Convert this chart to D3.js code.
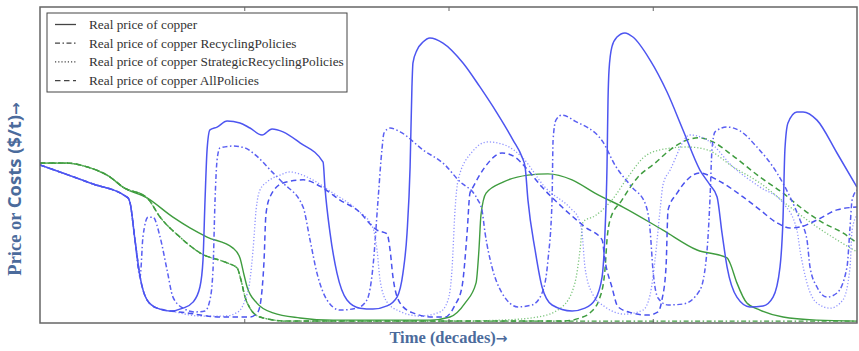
<!DOCTYPE html>
<html>
<head>
<meta charset="utf-8">
<script src="https://cdn.jsdelivr.net/npm/d3@7"></script>
<style>
  body { margin: 0; background: #fff; }
  svg { display: block; }
</style>
</head>
<body>
<svg id="chart"></svg>
<script>
// tempo em anos (0..40 = 4 décadas), preço como índice 0..100
const precoBase = [
  [0, 50.0], [2.45, 44.3], [4.31, 39.6], [4.41, 38.0], [4.65, 26.3], [4.90, 14.6], [5.24, 7.3], [5.73, 4.7],
  [6.36, 3.8], [7.00, 4.7], [7.49, 6.6], [7.83, 11.4], [7.98, 19.9], [8.08, 38.9], [8.18, 54.8], [8.32, 61.1],
  [8.67, 62.0], [9.16, 63.9], [9.79, 63.3], [10.28, 61.7], [10.87, 59.5], [11.36, 61.4], [11.90, 60.5],
  [12.73, 57.0], [13.86, 50.9], [13.95, 43.0], [14.20, 28.5], [14.54, 15.8], [15.03, 7.3], [15.67, 4.7],
  [16.30, 4.4], [16.99, 5.4], [17.48, 8.2], [17.77, 15.8], [17.97, 28.5], [18.12, 49.4], [18.21, 74.7],
  [18.26, 82.3], [18.46, 86.4], [18.75, 88.9], [19.09, 90.2], [19.73, 88.6], [20.71, 82.3], [21.54, 74.7],
  [22.37, 66.5], [23.16, 57.9], [23.60, 52.5], [23.75, 49.4], [23.89, 38.9], [24.24, 23.1], [24.58, 11.4],
  [25.07, 5.7], [26.05, 3.8], [26.68, 4.7], [27.17, 7.3], [27.52, 14.6], [27.66, 28.5], [27.76, 49.4],
  [27.81, 70.6], [27.86, 80.1], [28.00, 87.4], [28.25, 90.5], [28.64, 91.8], [29.03, 90.5], [29.87, 83.2],
  [30.70, 73.1], [31.48, 61.1], [32.31, 48.4], [32.80, 43.7], [33.15, 39.9], [33.39, 28.5], [33.64, 17.7],
  [34.12, 8.2], [34.76, 5.1], [35.40, 5.4], [35.89, 8.2], [36.23, 17.7], [36.38, 33.5], [36.47, 54.8],
  [36.62, 63.3], [37.06, 66.8], [37.36, 66.8], [38.04, 64.2], [39.02, 53.8], [40.00, 43.0]
];

const precoReciclagem = [
  [0, 50.0], [2.45, 44.3], [4.31, 39.6], [4.41, 38.0], [4.65, 26.3], [4.90, 14.6], [5.04, 27.2], [5.29, 33.5],
  [5.53, 33.5], [5.88, 27.2], [6.22, 16.8], [6.51, 8.2], [7.00, 4.7], [7.59, 3.5], [8.08, 3.8], [8.32, 7.3],
  [8.47, 16.8], [8.57, 38.9], [8.67, 51.6], [8.81, 55.4], [9.45, 56.0], [10.04, 55.4], [10.43, 53.8],
  [11.41, 47.5], [11.90, 44.3], [12.88, 36.7], [13.22, 26.3], [13.56, 15.8], [14.05, 7.3], [14.69, 4.1],
  [15.52, 4.7], [16.01, 7.3], [16.30, 17.7], [16.55, 38.9], [16.74, 54.8], [16.84, 60.1], [17.14, 61.7],
  [17.63, 60.5], [18.75, 54.8], [19.83, 50.0], [20.47, 45.3], [21.44, 38.9], [21.64, 35.7], [21.79, 28.5],
  [22.13, 17.7], [22.62, 9.5], [23.40, 5.1], [24.09, 5.7], [24.58, 9.5], [24.87, 19.9], [25.07, 38.9],
  [25.12, 57.9], [25.26, 64.2], [25.56, 65.8], [26.19, 63.9], [27.56, 57.3], [28.15, 50.0], [28.98, 43.0],
  [29.62, 38.0], [29.87, 29.4], [30.01, 16.8], [30.26, 7.9], [30.75, 5.7], [31.48, 6.0], [32.31, 10.4],
  [32.66, 23.1], [32.80, 38.9], [32.90, 54.8], [33.05, 60.5], [33.64, 62.0], [34.27, 60.8], [35.10, 55.7],
  [36.08, 47.5], [36.72, 39.9], [37.21, 32.6], [37.55, 26.3], [37.70, 17.7], [38.04, 11.4], [38.53, 8.2],
  [39.02, 9.5], [39.51, 17.7], [39.66, 30.4], [39.76, 38.9], [40.0, 42.1]
];

const precoEstrategica = [
  [0, 50.0], [2.45, 44.3], [4.31, 39.6], [4.41, 38.0], [4.65, 26.3], [4.90, 14.6], [5.24, 7.3], [5.73, 4.7],
  [6.61, 3.5], [7.83, 2.2], [9.06, 2.2], [9.69, 3.5], [10.04, 7.3], [10.28, 13.6], [10.43, 23.1], [10.58, 35.8],
  [10.77, 42.1], [11.11, 44.6], [11.75, 46.8], [12.24, 47.8], [13.07, 46.2], [14.35, 41.1], [15.52, 35.8],
  [16.30, 30.1], [16.50, 23.1], [16.65, 13.6], [16.99, 6.6], [17.48, 4.1], [18.60, 2.2], [19.58, 3.5],
  [19.98, 7.3], [20.17, 16.8], [20.32, 35.8], [20.47, 45.3], [21.15, 54.1], [21.93, 57.3], [22.77, 56.3],
  [23.60, 52.5], [24.72, 43.0], [26.05, 35.8], [26.34, 33.5], [26.54, 28.5], [26.68, 17.7], [27.03, 9.5],
  [27.66, 5.1], [28.64, 2.8], [29.52, 4.1], [29.87, 8.9], [30.11, 19.9], [30.36, 35.8], [30.50, 43.7],
  [30.85, 48.4], [31.82, 59.5], [32.66, 57.9], [33.93, 49.4], [35.25, 43.0], [36.38, 38.0], [37.06, 29.4],
  [37.21, 23.1], [37.55, 12.7], [38.04, 6.3], [38.68, 4.7], [39.31, 7.3], [39.66, 17.7], [39.76, 29.4],
  [40.0, 34.2]
];

const precoTodas = [
  [0, 50.0], [2.45, 44.3], [4.31, 39.6], [4.41, 38.0], [4.65, 26.3], [4.90, 14.6], [5.24, 7.3], [5.73, 4.7],
  [7.20, 3.2], [8.81, 1.9], [10.28, 1.9], [10.67, 3.5], [10.87, 10.4], [10.97, 19.9], [11.06, 34.2],
  [11.26, 39.9], [11.90, 44.3], [12.88, 45.3], [13.86, 42.7], [14.69, 38.9], [15.52, 35.8], [16.50, 29.4],
  [16.99, 28.2], [17.14, 23.1], [17.28, 14.6], [17.63, 6.3], [18.26, 3.2], [19.24, 1.9], [19.83, 1.9],
  [20.32, 5.7], [20.66, 11.4], [20.91, 28.5], [21.05, 41.1], [21.20, 43.0], [21.79, 49.4], [22.62, 53.8],
  [23.26, 52.5], [23.75, 49.4], [24.58, 43.0], [25.56, 36.7], [26.68, 30.4], [27.52, 26.3], [27.66, 19.9],
  [28.00, 11.4], [28.30, 5.1], [28.98, 3.2], [29.77, 2.5], [30.26, 3.5], [30.45, 7.3], [30.65, 17.7],
  [30.75, 35.8], [31.19, 41.1], [32.31, 47.5], [33.15, 45.3], [34.42, 39.9], [35.25, 35.8], [36.08, 31.7],
  [36.72, 30.1], [37.21, 30.4], [38.04, 32.6], [39.02, 35.8], [40.0, 36.7]
];

// curvas verdes (custos)
const custoBase = [
  [0, 50.6], [1.32, 50.6], [2.30, 49.4], [3.43, 46.2], [4.06, 43.0], [5.24, 39.6], [6.51, 33.5], [7.34, 30.1],
  [8.18, 27.2], [9.45, 23.7], [9.79, 20.6], [9.99, 15.2], [10.14, 11.4], [10.62, 6.3], [11.41, 3.2],
  [12.73, 1.6], [14.35, 0.9], [19.09, 0.9], [20.07, 1.9], [20.81, 6.3], [21.35, 12.7], [21.49, 23.1],
  [21.59, 34.2], [21.84, 41.1], [22.67, 44.6], [23.89, 46.8], [24.87, 47.2], [26.05, 45.3], [27.17, 41.1],
  [28.54, 36.7], [30.50, 29.4], [32.17, 23.1], [33.64, 20.6], [33.78, 19.0], [34.12, 12.7], [34.61, 6.3],
  [35.25, 4.1], [36.38, 1.9], [38.04, 0.9], [40, 0.6]
];

const custoReciclagem = [
  [0, 50.6], [1.32, 50.6], [2.30, 49.4], [3.43, 46.2], [4.06, 43.0], [5.24, 39.6], [5.88, 33.5], [6.85, 27.2],
  [7.83, 22.2], [9.16, 19.0], [9.65, 17.4], [9.84, 13.6], [10.04, 8.2], [10.28, 4.7], [10.77, 1.9],
  [12.09, 0.6], [40, 0.6]
];

const custoEstrategica = [
  [0, 50.6], [1.32, 50.6], [2.30, 49.4], [3.43, 46.2], [4.06, 43.0], [5.24, 39.6], [5.88, 33.5], [6.85, 27.2],
  [7.83, 22.2], [9.16, 19.0], [9.65, 17.4], [9.84, 13.6], [10.04, 8.2], [10.28, 4.7], [10.77, 1.9],
  [12.09, 0.6], [20.07, 0.6], [22.52, 0.9], [24.38, 1.9], [25.56, 5.1], [26.19, 12.7], [26.44, 23.1],
  [26.59, 32.0], [27.17, 33.9], [28.00, 38.9], [28.79, 46.2], [29.52, 52.2], [30.36, 54.8], [31.68, 55.7],
  [32.66, 54.8], [33.93, 49.4], [35.25, 44.3], [36.72, 36.7], [38.04, 30.4], [39.02, 26.3], [40, 22.5]
];

const custoTodas = [
  [0, 50.6], [1.32, 50.6], [2.30, 49.4], [3.43, 46.2], [4.06, 43.0], [5.24, 39.6], [5.88, 33.5], [6.85, 27.2],
  [7.83, 22.2], [9.16, 19.0], [9.65, 17.4], [9.84, 13.6], [10.04, 8.2], [10.28, 4.7], [10.77, 1.9],
  [12.09, 0.6], [24.48, 0.6], [25.61, 0.6], [26.44, 1.6], [26.93, 3.2], [27.42, 8.2], [27.66, 16.8],
  [27.76, 26.3], [27.91, 32.6], [28.49, 38.9], [29.28, 46.2], [30.11, 50.6], [30.85, 54.8], [31.68, 57.9],
  [32.31, 58.6], [32.95, 57.3], [33.93, 52.9], [35.25, 46.2], [36.38, 41.1], [37.21, 36.7], [38.34, 31.7],
  [39.31, 28.5], [40, 25.3]
];

const legendaNomes = [
  'Real price of copper',
  'Real price of copper RecyclingPolicies',
  'Real price of copper StrategicRecyclingPolicies',
  'Real price of copper AllPolicies'
];
const ticksDecadas = [10, 20, 30];

// estilos de linha (sólida, traço-ponto, pontilhada, tracejada)
const tracos = [null, '5,2.5,1.5,2.5', '1.2,2', '5.5,3.5'];

const W = 859, H = 351;
const m = { left: 40, right: 2, top: 7, bottom: 28 };

const svg = d3.select('#chart').attr('width', W).attr('height', H);

const x = d3.scaleLinear().domain([0, 40]).range([m.left, W - m.right]);
const y = d3.scaleLinear().domain([0, 100]).range([H - m.bottom, m.top]);

const linha = d3.line()
  .x(d => x(d[0]))
  .y(d => y(d[1]))
  .curve(d3.curveMonotoneX);

svg.append('defs').append('clipPath').attr('id', 'area')
  .append('rect')
  .attr('x', x(0)).attr('y', y(100))
  .attr('width', x(40) - x(0)).attr('height', y(0) - y(100));

const series = [
  { dados: custoBase, cor: '#3f9c3f', traco: tracos[0], w: 1.4 },
  { dados: custoReciclagem, cor: '#3f9c3f', traco: tracos[1], w: 1.3 },
  { dados: custoEstrategica, cor: '#7cc57c', traco: tracos[2], w: 1.3 },
  { dados: custoTodas, cor: '#3f9c3f', traco: tracos[3], w: 1.5 },
  { dados: precoReciclagem, cor: '#5a5ff2', traco: tracos[1], w: 1.5 },
  { dados: precoEstrategica, cor: '#8f93ff', traco: tracos[2], w: 1.3 },
  { dados: precoTodas, cor: '#4a52ee', traco: tracos[3], w: 1.5 },
  { dados: precoBase, cor: '#4d55f0', traco: tracos[0], w: 1.5 }
];

const g = svg.append('g').attr('clip-path', 'url(#area)');
g.selectAll('path')
  .data(series)
  .enter()
  .append('path')
  .attr('d', d => linha(d.dados))
  .attr('fill', 'none')
  .attr('stroke', d => d.cor)
  .attr('stroke-width', d => d.w)
  .attr('stroke-dasharray', d => d.traco)
  .attr('stroke-linejoin', 'round');

// moldura e marcas
svg.append('rect')
  .attr('x', x(0)).attr('y', y(100))
  .attr('width', x(40) - x(0)).attr('height', y(0) - y(100))
  .attr('fill', 'none').attr('stroke', '#666').attr('stroke-width', 1.5);

const eixoBaixo = svg.append('g').attr('transform', `translate(0,${y(0)})`)
  .call(d3.axisBottom(x).tickValues(ticksDecadas).tickSize(-4).tickFormat(''));
const eixoTopo = svg.append('g').attr('transform', `translate(0,${y(100)})`)
  .call(d3.axisTop(x).tickValues(ticksDecadas).tickSize(-4).tickFormat(''));
[eixoBaixo, eixoTopo].forEach(e => {
  e.select('.domain').remove();
  e.selectAll('line').attr('stroke', '#666');
});

// legenda
const leg = svg.append('g');
leg.append('rect')
  .attr('x', 47).attr('y', 13).attr('width', 300).attr('height', 79)
  .attr('fill', '#fff').attr('stroke', '#444').attr('stroke-width', 1);
legendaNomes.forEach((nome, i) => {
  const yy = 24.5 + i * 18.7;
  leg.append('line')
    .attr('x1', 55).attr('x2', 76).attr('y1', yy).attr('y2', yy)
    .attr('stroke', '#444').attr('stroke-width', 1.3)
    .attr('stroke-dasharray', tracos[i]);
  leg.append('text')
    .attr('x', 89).attr('y', yy + 4.5)
    .attr('font-family', '"Liberation Serif", serif')
    .attr('font-size', 13.3)
    .attr('fill', '#333')
    .text(nome);
});

// rótulos dos eixos
const corRotulo = '#4b6b9c';
const tx = svg.append('text')
  .attr('x', (x(0) + x(40)) / 2).attr('y', 343)
  .attr('text-anchor', 'middle')
  .attr('font-weight', 'bold')
  .attr('font-size', 16.5)
  .attr('fill', corRotulo);
tx.append('tspan').attr('font-family', '"Liberation Serif", serif').text('Time (decades)');
tx.append('tspan').attr('font-family', '"DejaVu Sans", sans-serif').attr('font-size', 14).text('→');

const ty = svg.append('text')
  .attr('transform', 'translate(21,189) rotate(-90)')
  .attr('text-anchor', 'middle')
  .attr('font-weight', 'bold')
  .attr('font-size', 18.5)
  .attr('fill', corRotulo);
ty.append('tspan').attr('font-family', '"Liberation Serif", serif').text('Price or ');
ty.append('tspan').attr('font-family', '"Open Sans", sans-serif').text('Costs ($/t)');
ty.append('tspan').attr('font-family', '"DejaVu Sans", sans-serif').attr('font-size', 15).text('→');
</script>
</body>
</html>
